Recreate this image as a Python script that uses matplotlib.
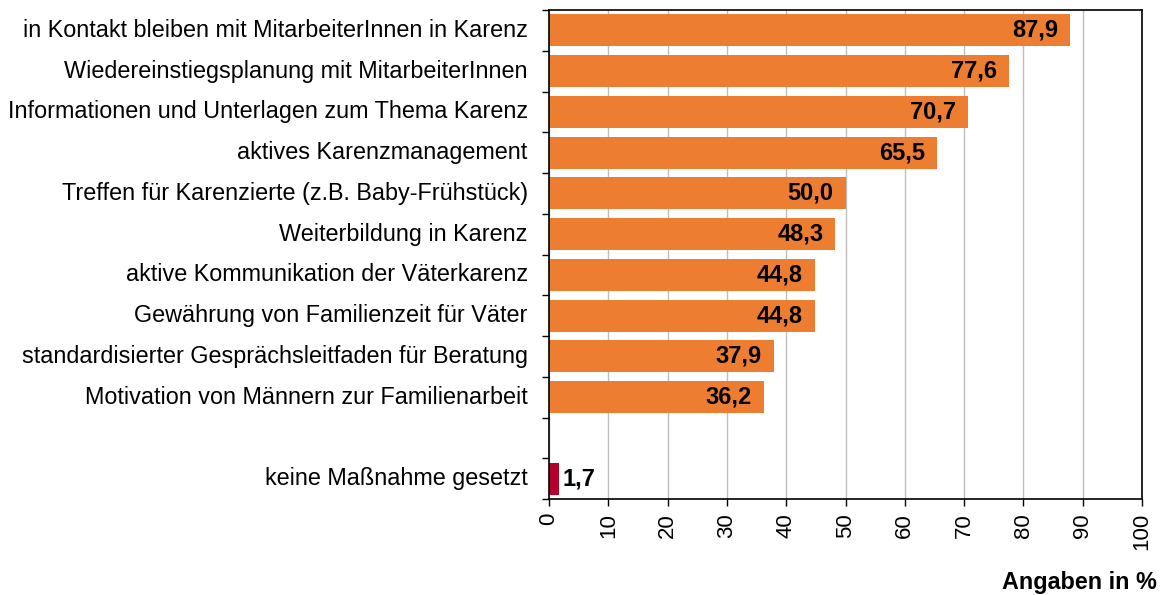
import matplotlib
matplotlib.use('Agg')
import matplotlib.pyplot as plt

plt.rcParams['font.family'] = ['Liberation Sans', 'DejaVu Sans']

categories = [
    'in Kontakt bleiben mit MitarbeiterInnen in Karenz',
    'Wiedereinstiegsplanung mit MitarbeiterInnen',
    'Informationen und Unterlagen zum Thema Karenz',
    'aktives Karenzmanagement',
    'Treffen für Karenzierte (z.B. Baby-Frühstück)',
    'Weiterbildung in Karenz',
    'aktive Kommunikation der Väterkarenz',
    'Gewährung von Familienzeit für Väter',
    'standardisierter Gesprächsleitfaden für Beratung',
    'Motivation von Männern zur Familienarbeit',
    '',
    'keine Maßnahme gesetzt',
]
values = [87.9, 77.6, 70.7, 65.5, 50.0, 48.3, 44.8, 44.8, 37.9, 36.2, None, 1.7]
colors = ['#ED7D31'] * 10 + [None, '#B4002A']

fig = plt.figure(figsize=(11.62, 5.95), dpi=100)
ax = fig.add_axes([549 / 1162, 1 - 499 / 595, (1142 - 549) / 1162, (499 - 10) / 595])

n = len(categories)
ypos = [n - 1 - i for i in range(n)]

for y, v, c in zip(ypos, values, colors):
    if v is None:
        continue
    ax.barh(y, v, height=0.79, color=c, zorder=2)
    label = ('%.1f' % v).replace('.', ',')
    if v > 10:
        ax.text(v - 2.0, y, label, ha='right', va='center', fontsize=17,
                fontweight='bold', zorder=3)
    else:
        ax.text(v + 0.5, y, label, ha='left', va='center', fontsize=17,
                fontweight='bold', zorder=3)

ax.set_xlim(0, 100)
ax.set_ylim(-0.5, n - 0.5)
ax.set_xticks(range(0, 101, 10))
ax.set_xticklabels([str(t) for t in range(0, 101, 10)], rotation=90, fontsize=16)
ax.xaxis.grid(True, color='#BEBEBE', linewidth=1, zorder=0)
ax.set_axisbelow(True)

# category labels at bar centres, ticks at slot boundaries
ax.set_yticks([y + 0.5 for y in range(-1, n)])
ax.set_yticklabels([])
ax.tick_params(axis='y', length=5, width=1, direction='out')
ax.tick_params(axis='x', length=5, width=1, direction='out', pad=5)
for y, cat in zip(ypos, categories):
    ax.text(-3.6, y, cat, ha='right', va='center', fontsize=16.8)

for s in ax.spines.values():
    s.set_color('black')
    s.set_linewidth(1.2)

fig.text(1157 / 1162, 1 - 582 / 595, 'Angaben in %', ha='right', va='center',
         fontsize=16.8, fontweight='bold')

fig.savefig('out.png', dpi=100)
